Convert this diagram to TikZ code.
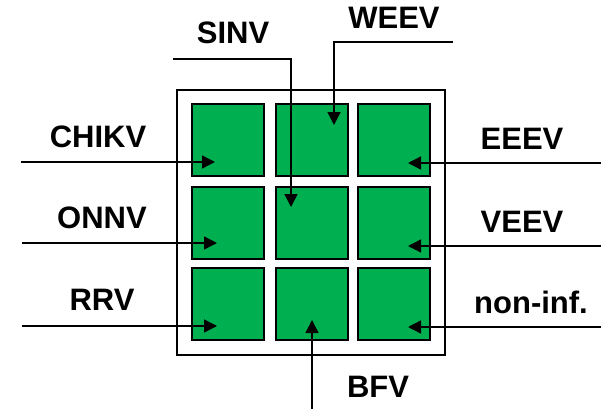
\documentclass[tikz,border=0pt]{standalone}
\usepackage{fontspec}
\setmainfont{Liberation Sans}
\usetikzlibrary{arrows.meta}
\definecolor{cellgreen}{RGB}{0,176,80}
\tikzset{
  cell/.style={draw=black, line width=2pt, fill=cellgreen, minimum width=72pt, minimum height=72pt, inner sep=0pt},
  frame/.style={draw=black, line width=1.6pt},
  lbl/.style={font=\fontsize{31}{31}\selectfont\bfseries, inner sep=0pt},
  conn/.style={draw=black, line width=1.4pt, -{Triangle[length=13pt,width=13pt]}}
}
\begin{document}
\begin{tikzpicture}[x=1pt,y=-1pt]
\useasboundingbox (0,0) rectangle (601,409);
\draw[frame] (177,90) rectangle (445,355);
% cells
\node[cell] (c11) at (228,140) {};
\node[cell] (c12) at (311.5,140) {};
\node[cell] (c13) at (394,140) {};
\node[cell] (c21) at (228,222.5) {};
\node[cell] (c22) at (311.5,222.5) {};
\node[cell] (c23) at (394,222.5) {};
\node[cell] (c31) at (228,304) {};
\node[cell] (c32) at (311.5,304) {};
\node[cell] (c33) at (394,304) {};
% labels
\node[lbl] (lchikv) at (98,137) {CHIKV};
\node[lbl] (lonnv) at (102,218) {ONNV};
\node[lbl] (lrrv) at (102,300) {RRV};
\node[lbl] (leeev) at (522,139) {EEEV};
\node[lbl] (lveev) at (522,222) {VEEV};
\node[lbl] (lnon) at (531,302) {non-inf.};
\node[lbl] (lsinv) at (233,33) {SINV};
\node[lbl] (lweev) at (394,18) {WEEV};
\node[lbl] (lbfv) at (378,387) {BFV};
% start points
\coordinate (schikv) at (21,162);
\coordinate (sonnv) at (22,243);
\coordinate (srrv) at (22,326);
\coordinate (seeev) at (601,163);
\coordinate (sveev) at (601,246);
\coordinate (snon) at (601,327);
\coordinate (ssinv) at (173,59);
\coordinate (ksinv) at (291,59);
\coordinate (sweev) at (453,42);
\coordinate (kweev) at (334,42);
\coordinate (sbfv) at (312,409);
% tips
\coordinate (tchikv) at (215,162);
\coordinate (tonnv) at (217,243);
\coordinate (trrv) at (217,326);
\coordinate (teeev) at (408,163);
\coordinate (tveev) at (408,246);
\coordinate (tnon) at (408,327);
\coordinate (tsinv) at (291,207);
\coordinate (tweev) at (334,125);
\coordinate (tbfv) at (312,320);
% connectors
\draw[conn] (schikv) -- (tchikv);
\draw[conn] (sonnv) -- (tonnv);
\draw[conn] (srrv) -- (trrv);
\draw[conn] (seeev) -- (teeev);
\draw[conn] (sveev) -- (tveev);
\draw[conn] (snon) -- (tnon);
\draw[conn] (ssinv) -- (ksinv) -- (tsinv);
\draw[conn] (sweev) -- (kweev) -- (tweev);
\draw[conn] (sbfv) -- (tbfv);
\end{tikzpicture}
\end{document}
